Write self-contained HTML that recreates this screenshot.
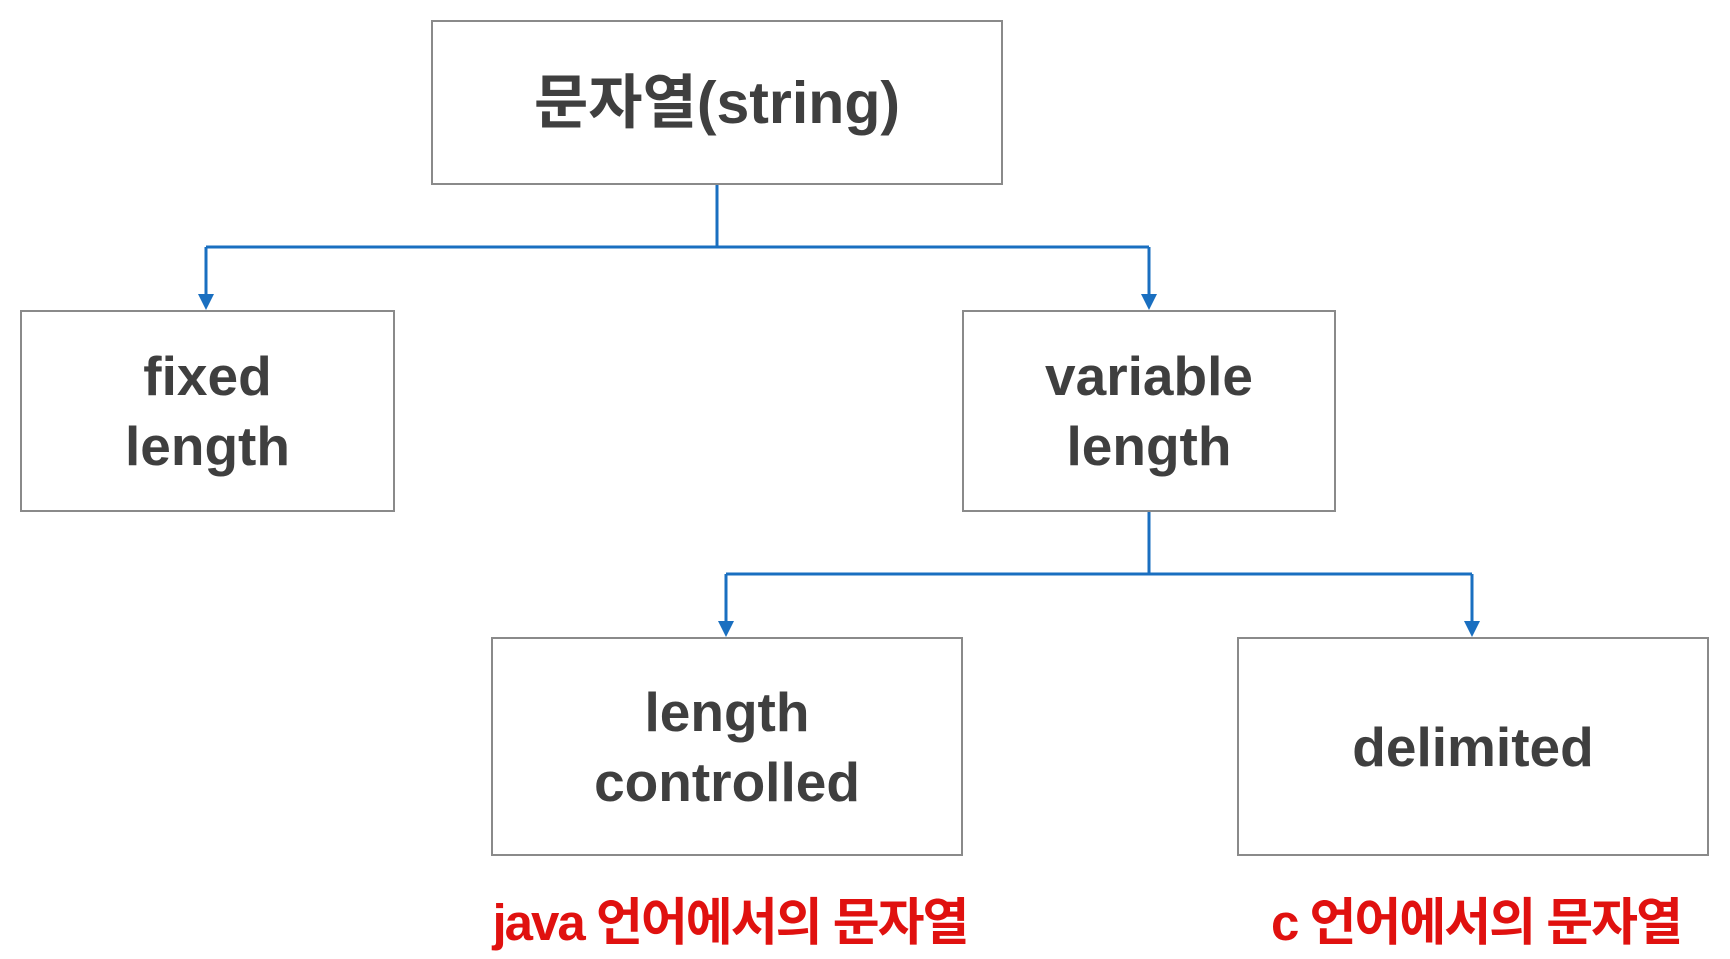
<!DOCTYPE html>
<html><head><meta charset="utf-8"><style>
body{margin:0;width:1730px;height:959px;background:#fff;position:relative;overflow:hidden;font-family:"Liberation Sans","Noto Sans CJK KR",sans-serif;}
.b{position:absolute;border:2.5px solid #8a8a8a;box-sizing:border-box;display:flex;align-items:center;justify-content:center;text-align:center;color:#3f3f3f;font-weight:bold;font-size:55px;line-height:70px;}
.r{position:absolute;color:#e0110f;font-weight:bold;font-size:51px;text-align:center;letter-spacing:-2px;}
</style></head><body>
<svg width="1730" height="959" style="position:absolute;left:0;top:0">
<g stroke="#1a6fc0" stroke-width="3" fill="none">
<path d="M717 184V247M206 247H1149M206 247V298M1149 247V298"/>
<path d="M1149 511V574M726 574H1472M726 574V625M1472 574V625"/>
</g>
<g fill="#1a6fc0">
<path d="M198 294L214 294L206 310Z"/><path d="M1141 294L1157 294L1149 310Z"/>
<path d="M718 621L734 621L726 637Z"/><path d="M1464 621L1480 621L1472 637Z"/>
</g>
</svg>
<div class="b" style="left:431px;top:20px;width:572px;height:165px;font-size:59px">문자열(string)</div>
<div class="b" style="left:20px;top:310px;width:375px;height:202px">fixed<br>length</div>
<div class="b" style="left:962px;top:310px;width:374px;height:202px">variable<br>length</div>
<div class="b" style="left:491px;top:637px;width:472px;height:219px">length<br>controlled</div>
<div class="b" style="left:1237px;top:637px;width:472px;height:219px">delimited</div>
<div class="r" style="left:430px;top:881px;width:600px">java 언어에서의 문자열</div>
<div class="r" style="left:1176px;top:881px;width:600px">c 언어에서의 문자열</div>
</body></html>
